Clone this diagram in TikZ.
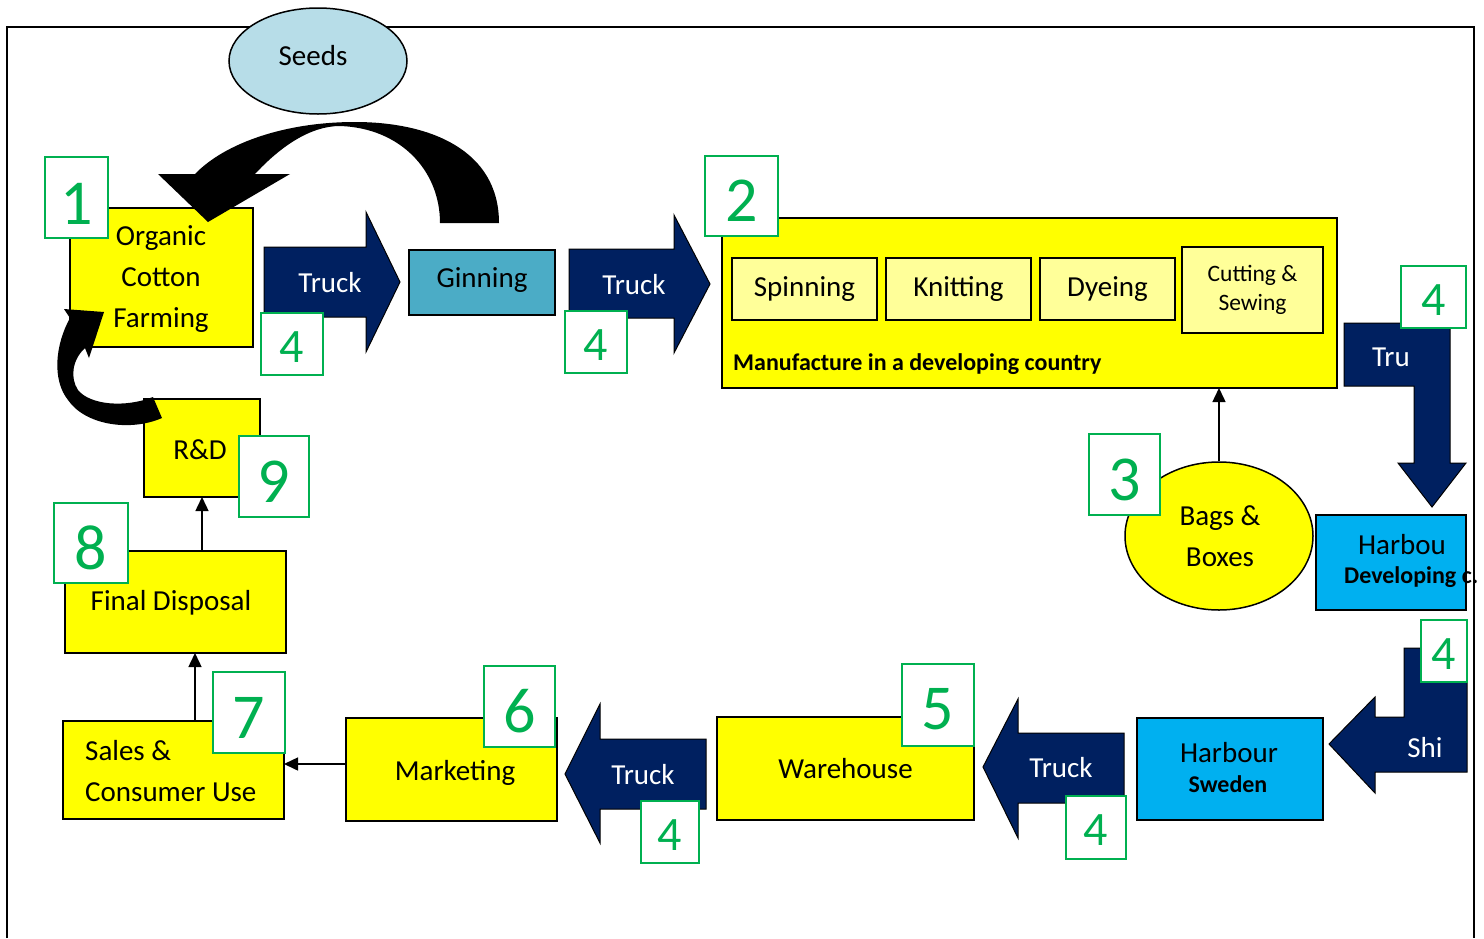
\documentclass[tikz,border=0pt]{standalone}
\usepackage{fontspec}
\setmainfont{Carlito}
\usetikzlibrary{arrows.meta,shapes.geometric}
\definecolor{yel}{HTML}{FFFF00}
\definecolor{lyel}{HTML}{FFFF99}
\definecolor{navy}{HTML}{002060}
\definecolor{gincol}{HTML}{4BACC6}
\definecolor{harb}{HTML}{00B0F0}
\definecolor{seedcol}{HTML}{B7DDE8}
\definecolor{grn}{HTML}{00B050}
\newcommand\lowdig[2]{\raisebox{-#1}[\height][0pt]{#2}}
\begin{document}
\begin{tikzpicture}[x=1pt,y=-1pt,
  mainfont/.style={font=\fontsize{29}{41}\selectfont},
  ybox/.style={draw=black,line width=1.6pt,fill=yel,inner sep=0pt,outer sep=0pt,mainfont,align=center},
  lbox/.style={ybox,fill=lyel},
  bbox/.style={ybox,fill=harb},
  numbox/.style={draw=grn,line width=1.4pt,fill=white,text=grn,inner sep=0pt,font=\fontsize{64}{64}\selectfont},
  numsmall/.style={numbox,font=\fontsize{48}{48}\selectfont},
  blockarrow/.style={fill=navy,draw=black,line width=1pt,line join=miter},
  wtxt/.style={text=white,mainfont,inner sep=0pt},
  conn/.style={draw=black,line width=1.5pt,-{Triangle[length=14pt,width=13pt]}}
]
\useasboundingbox (0,0) rectangle (1484,938);
% frame
\draw[line width=1.2pt] (7,938) -- (7,27) -- (1474,27) -- (1474,938);

% seeds
\node[ellipse,draw=black,line width=1.5pt,fill=seedcol,minimum width=178pt,minimum height=106pt,inner sep=0pt,mainfont] (seeds) at (318,61) {};
\node[mainfont,inner sep=0pt] (seedstxt) at (313,56) {Seeds};

% stage 1
\node[ybox,minimum width=183pt,minimum height=139pt] (farm) at (161.5,277.5) {};
\node[mainfont,align=center,inner sep=0pt] (farmtxt) at (161,279) {Organic\\Cotton\\Farming};
\node[numbox,minimum width=63pt,minimum height=81pt] (n1) at (76.5,197.5) {\lowdig{6pt}{1}};

% truck 1
\filldraw[blockarrow] (264,247) -- (366,247) -- (366,212) -- (400,282) -- (366,352) -- (366,317) -- (264,317) -- cycle;
\node[wtxt] (truck1) at (330,283) {Truck};
\node[numsmall,minimum width=62pt,minimum height=62pt] (n4a) at (292,344) {\lowdig{3pt}{4}};

% ginning
\node[ybox,fill=gincol,minimum width=146pt,minimum height=65pt] (gin) at (482,282.5) {};
\node[mainfont,inner sep=0pt] (gintxt) at (482,280) {Ginning};

% truck 2
\filldraw[blockarrow] (569,249) -- (674,249) -- (674,215) -- (710,284) -- (674,353) -- (674,318) -- (569,318) -- cycle;
\node[wtxt] (truck2) at (634,285) {Truck};
\node[numsmall,minimum width=62pt,minimum height=62pt] (n4b) at (596,342) {\lowdig{3pt}{4}};

% manufacture
\node[ybox,minimum width=615pt,minimum height=170pt] (manuf) at (1029.5,303) {};
\node[numbox,minimum width=73pt,minimum height=80pt] (n2) at (741.5,196) {\lowdig{5pt}{2}};
\node[lbox,minimum width=145pt,minimum height=62pt] (spin) at (804.5,289) {Spinning};
\node[lbox,minimum width=145pt,minimum height=62pt] (knit) at (958.5,289) {Knitting};
\node[lbox,minimum width=135pt,minimum height=62pt] (dye) at (1107.5,289) {Dyeing};
\node[lbox,minimum width=141pt,minimum height=86pt,font=\fontsize{23.5}{29}\selectfont] (cut) at (1252.5,290) {Cutting \&\\Sewing};
\node[anchor=west,inner sep=0pt,font=\fontsize{24}{28}\selectfont\bfseries] (manuftxt) at (733,364) {Manufacture in a developing country};

% bags
\node[ellipse,draw=black,line width=1.5pt,fill=yel,minimum width=188pt,minimum height=148pt,inner sep=0pt] (bags) at (1219,536) {};
\node[mainfont,align=center,inner sep=0pt] (bagstxt) at (1220,536) {Bags \&\\Boxes};
\draw[conn] (bags.north) -- (bags.north |- manuf.south);
\node[numbox,minimum width=71pt,minimum height=81pt] (n3) at (1124.5,474.5) {\lowdig{5pt}{3}};

% Tru bent arrow
\filldraw[blockarrow] (1344,323) -- (1450,323) -- (1450,463) -- (1466,463) -- (1432,507) -- (1398,463) -- (1414,463) -- (1414,386) -- (1344,386) -- cycle;
\node[wtxt] (trutxt) at (1391,357) {Tru};
\node[numsmall,minimum width=65pt,minimum height=62pt] (n4c) at (1433.5,297) {\lowdig{3pt}{4}};

% Harbour developing
\node[bbox,minimum width=150pt,minimum height=95pt] (harbD) at (1391,562.5) {};
\node[mainfont,inner sep=0pt] (harbDtxt) at (1402,545) {Harbou};
\node[anchor=west,inner sep=0pt,font=\fontsize{24}{28}\selectfont\bfseries] (devtxt) at (1344,577) {Developing c.};

% Shi bent arrow
\filldraw[blockarrow] (1404,648) -- (1467,648) -- (1467,772) -- (1375,772) -- (1375,793) -- (1329,744) -- (1375,697) -- (1375,717) -- (1404,717) -- cycle;
\node[wtxt] (shitxt) at (1425,748) {Shi};
\node[numsmall,minimum width=46pt,minimum height=62pt] (n4d) at (1444,651) {\lowdig{3pt}{4}};

% Harbour Sweden
\node[bbox,minimum width=186pt,minimum height=102pt] (harbS) at (1230,769) {};
\node[mainfont,inner sep=0pt] (harbStxt) at (1229,753) {Harbour};
\node[inner sep=0pt,font=\fontsize{24}{28}\selectfont\bfseries] (swetxt) at (1228,784) {Sweden};

% truck right (to warehouse)
\filldraw[blockarrow] (1124,733) -- (1018,733) -- (1018,699) -- (983,767) -- (1018,838) -- (1018,803) -- (1124,803) -- cycle;
\node[wtxt] (truck3) at (1061,768) {Truck};
\node[numsmall,minimum width=60pt,minimum height=63pt] (n4e) at (1096,827.5) {\lowdig{3pt}{4}};

% warehouse
\node[ybox,minimum width=257pt,minimum height=103pt] (ware) at (845.5,768.5) {Warehouse};
\node[numbox,minimum width=72pt,minimum height=82pt] (n5) at (938,705) {\lowdig{4pt}{5}};

% truck middle (to marketing)
\filldraw[blockarrow] (706,739) -- (600,739) -- (600,704) -- (565,774) -- (600,843) -- (600,809) -- (706,809) -- cycle;
\node[wtxt] (truck4) at (643,775) {Truck};
\node[numsmall,minimum width=58pt,minimum height=62pt] (n4f) at (670,832) {\lowdig{3pt}{4}};

% marketing
\node[ybox,minimum width=211pt,minimum height=103pt] (mkt) at (451.5,769.5) {};
\node[mainfont,inner sep=0pt] (mkttxt) at (455,773) {Marketing};
\node[numbox,minimum width=71pt,minimum height=81pt] (n6) at (519.5,706.5) {\lowdig{4pt}{6}};

% sales
\node[ybox,minimum width=221pt,minimum height=98pt] (sales) at (173.5,770) {};
\node[mainfont,align=left,anchor=west,inner sep=0pt] (salestxt) at (85,771) {Sales \&\\Consumer Use};
\draw[conn] ([yshift=5.5pt]mkt.west) -- ([yshift=5.5pt]mkt.west -| sales.east);

% final disposal
\node[ybox,minimum width=221pt,minimum height=102pt] (fd) at (175.5,602) {};
\node[mainfont,inner sep=0pt] (fdtxt) at (171,603) {Final Disposal};
\draw[conn] ([xshift=21.5pt]sales.north) -- ([xshift=21.5pt]sales.north |- fd.south);
\node[numbox,minimum width=72pt,minimum height=81pt] (n7) at (249,712.5) {\lowdig{5pt}{7}};

% R&D
\node[ybox,minimum width=116pt,minimum height=98pt] (rd) at (202,448) {};
\node[mainfont,inner sep=0pt] (rdtxt) at (200,450) {R\&D};
\draw[conn] (rd.south |- fd.north) -- (rd.south);
\node[numbox,minimum width=74pt,minimum height=80pt] (n8) at (91,543) {\lowdig{5pt}{8}};
\node[numbox,minimum width=70pt,minimum height=81pt] (n9) at (274,476.5) {\lowdig{5pt}{9}};

% big curved arrow (ginning -> farming)
\fill[black] (499,223) .. controls (499,150) and (430,122) .. (355,122)
  .. controls (285,122) and (225,143) .. (195,174) -- (158,174) -- (208,222) -- (290,174) -- (255,174)
  .. controls (280,147) and (310,126) .. (340,126)
  .. controls (400,128) and (440,170) .. (440,223) -- cycle;

% small curved arrow (R&D -> farming)
\fill[black] (70,318) .. controls (55,345) and (52,380) .. (68,400)
  .. controls (85,425) and (130,432) .. (162,418) -- (153,397)
  .. controls (125,408) and (90,405) .. (78,390)
  .. controls (70,378) and (72,360) .. (85,348) -- (89,358) -- (104,312) -- (64,309) -- cycle;
\end{tikzpicture}
\end{document}
